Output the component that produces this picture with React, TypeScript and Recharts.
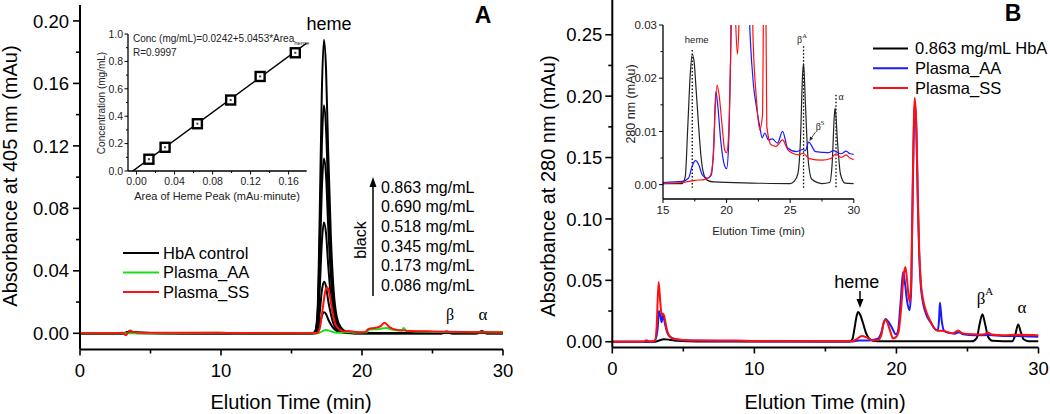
import { ComposedChart, Line, Scatter, XAxis, YAxis, ReferenceLine } from "recharts";

// ---------- Panel A (405 nm) ----------
// shared time grid for the six HbA control runs
const TIME_A = [0, 3.0, 3.25, 3.5, 3.75, 4.2, 6, 16.5, 16.7, 16.85, 17.0, 17.15, 17.3, 17.45, 17.6, 17.8, 18.0, 18.2, 18.5, 18.9, 19.5, 25.6, 26.0, 26.4, 28.1, 28.5, 28.9, 30];
const HBA_0863 = [0, 0, 0.0003, 0.0012, 0.0008, 0.0004, 0.0002, 0, 0.0019, 0.015, 0.075, 0.154, 0.188, 0.169, 0.117, 0.06, 0.026, 0.011, 0.0038, 0.0009, 0.0002, 0.0002, 0.0012, 0.0002, 0.0002, 0.0013, 0.0002, 0.0002];
const HBA_0690 = [0, 0, 0.0003, 0.0011, 0.0007, 0.0004, 0.0002, 0, 0.0015, 0.0117, 0.058, 0.12, 0.146, 0.131, 0.091, 0.047, 0.02, 0.0088, 0.0029, 0.0007, 0.0002, 0.0002, 0.001, 0.0002, 0.0002, 0.0011, 0.0002, 0.0002];
const HBA_0518 = [0, 0, 0.0002, 0.001, 0.0006, 0.0003, 0.0001, 0, 0.0011, 0.009, 0.045, 0.092, 0.112, 0.101, 0.069, 0.036, 0.016, 0.0067, 0.0022, 0.0006, 0.0001, 0.0001, 0.0008, 0.0001, 0.0001, 0.0009, 0.0001, 0.0001];
const HBA_0345 = [0, 0, 0.0002, 0.0008, 0.0005, 0.0002, 0.0001, 0, 0.0007, 0.0057, 0.028, 0.058, 0.071, 0.064, 0.044, 0.023, 0.0099, 0.0043, 0.0014, 0.0004, 0.0001, 0.0001, 0.0006, 0.0001, 0.0001, 0.0007, 0.0001, 0.0001];
const HBA_0173 = [0, 0, 0.0001, 0.0006, 0.0004, 0.0002, 0.0001, 0, 0.0003, 0.0026, 0.013, 0.027, 0.033, 0.03, 0.021, 0.012, 0.0055, 0.0026, 0.001, 0.0003, 0.0001, 0.0001, 0.0004, 0.0001, 0.0001, 0.0004, 0.0001, 0.0001];
const HBA_0086 = [0, 0, 0.0001, 0.0004, 0.0003, 0.0001, 0, 0, 0.0001, 0.0011, 0.0054, 0.011, 0.0135, 0.0124, 0.009, 0.0055, 0.003, 0.0016, 0.0007, 0.0002, 0, 0, 0.0003, 0, 0, 0.0003, 0, 0];
const HBA_RUNS = [HBA_0863, HBA_0690, HBA_0518, HBA_0345, HBA_0173, HBA_0086];
const CONC_LABELS = ["0.863 mg/mL", "0.690 mg/mL", "0.518 mg/mL", "0.345 mg/mL", "0.173 mg/mL", "0.086 mg/mL"];

const PLASMA_SS_A: [number, number][] = [
  [0, 0], [2.5, 0], [3.0, 0.0003], [3.25, -0.0012], [3.4, 0.0005], [3.55, 0.0018], [3.8, 0.0008], [4.5, 0.0003],
  [9.5, 0.0004], [10.5, 0.0002], [16.8, 0.0001], [17.0, 0.003], [17.2, 0.015], [17.4, 0.027], [17.55, 0.0295],
  [17.7, 0.025], [17.9, 0.014], [18.1, 0.006], [18.4, 0.0025], [18.7, 0.0012], [19.05, 0.0014], [19.5, 0.0008],
  [20.2, 0.0006], [20.45, 0.0028], [21.0, 0.0036], [21.35, 0.0048], [21.6, 0.0068], [21.95, 0.004], [22.5, 0.0022],
  [23.5, 0.0015], [25, 0.0012], [27, 0.0009], [30, 0.0006],
];
const PLASMA_AA_A: [number, number][] = [
  [0, 0], [3.0, 0], [6, 0.0001], [9.7, 0.0003], [11, 0.0001], [16.9, 0.0001], [17.2, 0.0014], [17.45, 0.0021],
  [17.75, 0.0014], [18.2, 0.0003], [18.7, 0.0004], [19.0, 0.0009], [19.4, 0.0004], [20.3, 0.0006], [20.55, 0.0025],
  [21.2, 0.0028], [21.7, 0.0034], [22.2, 0.0022], [22.8, 0.0016], [22.95, 0.0034], [23.15, 0.0014], [25, 0.0009], [30, 0.0005],
];

// calibration inset
const HEME_AREA = [0.013, 0.03, 0.064, 0.099, 0.13, 0.167];
const HEME_CONC = [0.086, 0.173, 0.345, 0.518, 0.69, 0.863];
const FIT_AREA = [-0.004, 0.179];
const FIT_CONC = [0, 0.934];

// ---------- Panel B (280 nm) ----------
const HBA_B: [number, number][] = [
  [0, 0], [3.0, 0], [3.3, 0.001], [3.6, 0.002], [4.0, 0.0017], [4.6, 0.0007], [6, 0.0002], [16.7, 0.0001],
  [16.9, 0.002], [17.05, 0.011], [17.2, 0.021], [17.3, 0.0243], [17.45, 0.022], [17.65, 0.015], [17.85, 0.0075],
  [18.05, 0.003], [18.35, 0.0008], [19, 0.0003], [25.3, 0.0003], [25.65, 0.003], [25.85, 0.014], [26.05, 0.0224],
  [26.25, 0.014], [26.45, 0.004], [26.75, 0.0007], [27.5, 0.0003], [28.15, 0.0004], [28.35, 0.005], [28.57, 0.0141],
  [28.75, 0.008], [28.95, 0.002], [29.3, 0.0004], [30, 0.0003],
];
const PLASMA_AA_B: [number, number][] = [
  [0, 0], [2.9, 0], [3.1, 0.004], [3.2, 0.012], [3.28, 0.025], [3.4, 0.02], [3.47, 0.016], [3.57, 0.022], [3.7, 0.015],
  [3.85, 0.008], [4.05, 0.004], [4.5, 0.0018], [5.5, 0.001], [8.5, 0.0006], [12, 0.0003], [16.8, 0.0002], [17.4, 0.001],
  [18.0, 0.001], [18.7, 0.0025], [18.95, 0.008], [19.1, 0.015], [19.24, 0.0186], [19.45, 0.016], [19.7, 0.011],
  [19.95, 0.006], [20.1, 0.008], [20.3, 0.033], [20.47, 0.0567], [20.6, 0.048], [20.75, 0.033], [20.92, 0.0257],
  [21.03, 0.04], [21.13, 0.11], [21.3, 0.195], [21.42, 0.165], [21.5, 0.115], [21.6, 0.072], [21.7, 0.048],
  [21.9, 0.03], [22.1, 0.022], [22.45, 0.015], [22.7, 0.0105], [22.9, 0.009], [23.0, 0.018], [23.06, 0.032],
  [23.18, 0.018], [23.35, 0.009], [23.7, 0.0072], [24.1, 0.0066], [24.4, 0.0078], [24.7, 0.006], [25.5, 0.0052],
  [26.5, 0.0054], [27.5, 0.0047], [28.5, 0.0046], [29.5, 0.0042], [30, 0.0041],
];
const PLASMA_SS_B: [number, number][] = [
  [0, 0], [2.2, 0], [2.4, 0.0012], [2.6, 0.0002], [3.0, 0.0008], [3.12, 0.012], [3.26, 0.0486], [3.38, 0.032],
  [3.47, 0.022], [3.53, 0.023], [3.65, 0.021], [3.8, 0.012], [4.0, 0.005], [4.4, 0.0022], [5.5, 0.001], [8.7, 0.0009],
  [10, 0.0005], [16.8, 0.0003], [17.2, 0.002], [17.55, 0.0046], [17.9, 0.0035], [18.3, 0.0012], [18.7, 0.0014],
  [18.95, 0.006], [19.05, 0.013], [19.18, 0.018], [19.35, 0.016], [19.55, 0.009], [19.76, 0.0027], [19.95, 0.0035],
  [20.15, 0.008], [20.35, 0.03], [20.5, 0.053], [20.63, 0.0608], [20.75, 0.05], [20.85, 0.038], [20.94, 0.0324],
  [21.05, 0.052], [21.15, 0.13], [21.29, 0.1985], [21.4, 0.176], [21.5, 0.122], [21.6, 0.076], [21.71, 0.05],
  [21.9, 0.033], [22.15, 0.023], [22.4, 0.0165], [22.6, 0.012], [22.9, 0.0092], [23.3, 0.0088], [23.7, 0.0075],
  [24.0, 0.007], [24.34, 0.0092], [24.6, 0.0072], [25, 0.0062], [25.8, 0.0058], [26.2, 0.006], [26.45, 0.0076],
  [26.7, 0.0058], [27.5, 0.0052], [28.5, 0.0056], [29.5, 0.0055], [30, 0.0052],
];

// 15-30 min zoom inset
const HBA_B_ZOOM: [number, number][] = [
  [15, 0.0002], [16.5, 0.0002], [16.75, 0.0015], [16.95, 0.011], [17.15, 0.021], [17.3, 0.0245], [17.45, 0.023],
  [17.6, 0.018], [17.8, 0.011], [18.0, 0.005], [18.2, 0.002], [18.5, 0.0008], [19, 0.0005], [22, 0.0003],
  [25, 0.0002], [25.3, 0.0006], [25.6, 0.002], [25.8, 0.008], [25.98, 0.021], [26.05, 0.0228], [26.2, 0.015],
  [26.4, 0.005], [26.7, 0.001], [27.5, 0.0002], [28.1, 0.0004], [28.3, 0.004], [28.47, 0.013], [28.53, 0.0144],
  [28.72, 0.008], [28.95, 0.002], [29.3, 0.0003], [30, 0.0002],
];
const PLASMA_AA_ZOOM: [number, number][] = [
  [15, 0.0004], [16.5, 0.0006], [17.0, 0.0012], [17.3, 0.0035], [17.55, 0.0045], [17.8, 0.0038], [18.1, 0.0018],
  [18.5, 0.0012], [18.8, 0.0018], [19.0, 0.008], [19.15, 0.0175], [19.3, 0.015], [19.55, 0.008], [19.85, 0.0035],
  [20.0, 0.003], [20.15, 0.007], [20.3, 0.022], [20.45, 0.04], [21.6, 0.045], [21.85, 0.028], [22.1, 0.019],
  [22.35, 0.0145], [22.6, 0.011], [22.8, 0.0088], [23.0, 0.0097], [23.3, 0.0084], [23.6, 0.0086], [24.0, 0.0078],
  [24.4, 0.01], [24.8, 0.0069], [25.5, 0.0062], [26.0, 0.0066], [26.2, 0.0064], [26.45, 0.008], [27.0, 0.0062],
  [28.0, 0.006], [28.4, 0.0064], [29.0, 0.0058], [29.4, 0.0063], [29.7, 0.0058], [30, 0.0057],
];
const PLASMA_SS_ZOOM: [number, number][] = [
  [15, 0.0002], [16.5, 0.0004], [17.5, 0.0008], [18.3, 0.001], [18.7, 0.0016], [18.95, 0.005], [19.1, 0.014],
  [19.25, 0.0187], [19.4, 0.017], [19.65, 0.011], [19.85, 0.0065], [20.0, 0.006], [20.15, 0.009], [20.3, 0.022],
  [20.45, 0.045], [20.55, 0.045], [20.72, 0.03], [20.85, 0.0245], [20.97, 0.03], [21.1, 0.045], [21.9, 0.045],
  [22.1, 0.026], [22.35, 0.016], [22.6, 0.0103], [22.82, 0.013], [22.95, 0.045], [23.05, 0.045], [23.16, 0.011],
  [23.5, 0.0075], [23.9, 0.0072], [24.4, 0.0084], [24.8, 0.0066], [25.2, 0.0059], [25.7, 0.0056], [26.0, 0.0059],
  [26.5, 0.0049], [27.5, 0.0046], [28.2, 0.0049], [28.6, 0.0058], [29.0, 0.0051], [29.4, 0.0056], [29.7, 0.005], [30, 0.0047],
];

const BLACK = "#000000";
const RED = "#ff1010";
const GREEN = "#18e018";
const BLUE = "#1a1aff";
const FONT = "'Liberation Sans', Arial, sans-serif";
const SERIF = "'Liberation Serif', 'Times New Roman', serif";

const pts = (arr: [number, number][]) => arr.map(([t, v]) => ({ t, v }));
const runPts = (vals: number[]) => TIME_A.map((t, i) => ({ t, v: vals[i] }));

type TickOpts = {
  axis: "x" | "y";
  major: number;
  digits: number;
  size: number;
  len: number;
  minor: number;
  gap: number;
  sw: number;
  color?: string;
};

// draws its own outward tick mark, labels only the major ones
function makeTick(o: TickOpts) {
  return (p: any) => {
    const v = Number(p.payload.value);
    const isMajor = Math.abs(v / o.major - Math.round(v / o.major)) < 1e-6;
    const l = isMajor ? o.len : o.minor;
    const fill = o.color || "#000";
    if (o.axis === "x") {
      return (
        <g>
          <line x1={p.x} x2={p.x} y1={p.y} y2={p.y + l} stroke="#000" strokeWidth={o.sw} />
          {isMajor && (
            <text x={p.x} y={p.y + o.gap} dy="0.36em" textAnchor="middle" fontSize={o.size} fill={fill} fontFamily={FONT}>
              {v.toFixed(o.digits)}
            </text>
          )}
        </g>
      );
    }
    return (
      <g>
        <line x1={p.x} x2={p.x - l} y1={p.y} y2={p.y} stroke="#000" strokeWidth={o.sw} />
        {isMajor && (
          <text x={p.x - o.gap} y={p.y} dy="0.36em" textAnchor="end" fontSize={o.size} fill={fill} fontFamily={FONT}>
            {v.toFixed(o.digits)}
          </text>
        )}
      </g>
    );
  };
}

const mainAxisLine = { stroke: "#000", strokeWidth: 2 };
const insetAxisLine = { stroke: "#000", strokeWidth: 1.3 };

function SquareDot(p: any) {
  return (
    <g>
      <rect x={p.cx - 4.5} y={p.cy - 4.5} width={9} height={9} fill="#fff" stroke="#000" strokeWidth={2.4} />
      <rect x={p.cx - 1} y={p.cy - 1} width={2} height={2} fill="#444" />
    </g>
  );
}

function PanelA() {
  return (
    <ComposedChart width={520} height={414} margin={{ top: 5, right: 17, bottom: 0, left: 0 }}>
      <XAxis
        type="number"
        dataKey="t"
        domain={[0, 30]}
        ticks={[0, 5, 10, 15, 20, 25, 30]}
        interval={0}
        height={64.5}
        tickSize={0}
        tickMargin={0}
        tickLine={false}
        axisLine={mainAxisLine}
        tick={makeTick({ axis: "x", major: 10, digits: 0, size: 18.5, len: 6, minor: 4, gap: 21, sw: 1.6 })}
        allowDataOverflow
      />
      <YAxis
        type="number"
        domain={[-0.01037, 0.2102]}
        ticks={[0, 0.02, 0.04, 0.06, 0.08, 0.1, 0.12, 0.14, 0.16, 0.18, 0.2]}
        interval={0}
        width={80}
        tickSize={0}
        tickMargin={0}
        tickLine={false}
        axisLine={mainAxisLine}
        tick={makeTick({ axis: "y", major: 0.04, digits: 2, size: 18.5, len: 7, minor: 4, gap: 11, sw: 1.6 })}
        allowDataOverflow
      />
      {HBA_RUNS.map((run, i) => (
        <Line key={i} data={runPts(run)} dataKey="v" type="monotone" stroke={BLACK} strokeWidth={2} dot={false} isAnimationActive={false} />
      ))}
      <Line data={pts(PLASMA_AA_A)} dataKey="v" type="monotone" stroke={GREEN} strokeWidth={2} dot={false} isAnimationActive={false} />
      <Line data={pts(PLASMA_SS_A)} dataKey="v" type="monotone" stroke={RED} strokeWidth={2} dot={false} isAnimationActive={false} />
    </ComposedChart>
  );
}

function CalibrationInset() {
  const points = HEME_AREA.map((a, i) => ({ x: a, y: HEME_CONC[i] }));
  const fit = FIT_AREA.map((a, i) => ({ x: a, y: FIT_CONC[i] }));
  return (
    <ComposedChart width={228} height={178} margin={{ top: 5, right: 9.3, bottom: 0, left: 0 }}>
      <XAxis
        type="number"
        dataKey="x"
        domain={[-0.009, 0.179]}
        ticks={[0, 0.02, 0.04, 0.06, 0.08, 0.1, 0.12, 0.14, 0.16]}
        interval={0}
        height={36}
        tickSize={0}
        tickMargin={0}
        tickLine={false}
        axisLine={insetAxisLine}
        tick={makeTick({ axis: "x", major: 0.04, digits: 2, size: 10.5, len: 3.5, minor: 2, gap: 10, sw: 1, color: "#222" })}
        allowDataOverflow
      />
      <YAxis
        type="number"
        dataKey="y"
        domain={[0, 1]}
        ticks={[0, 0.1, 0.2, 0.3, 0.4, 0.5, 0.6, 0.7, 0.8, 0.9, 1.0]}
        interval={0}
        width={40}
        tickSize={0}
        tickMargin={0}
        tickLine={false}
        axisLine={insetAxisLine}
        tick={makeTick({ axis: "y", major: 0.2, digits: 1, size: 10.5, len: 3.5, minor: 2, gap: 5, sw: 1, color: "#222" })}
        allowDataOverflow
      />
      <Line data={fit} dataKey="y" type="linear" stroke="#000" strokeWidth={1.5} dot={false} isAnimationActive={false} />
      <Scatter data={points} dataKey="y" shape={SquareDot} isAnimationActive={false} />
    </ComposedChart>
  );
}

function PanelB() {
  return (
    <ComposedChart width={530} height={414} margin={{ top: 0, right: 11.5, bottom: 0, left: 0 }}>
      <XAxis
        type="number"
        dataKey="t"
        domain={[0, 30]}
        ticks={[0, 5, 10, 15, 20, 25, 30]}
        interval={0}
        height={66.5}
        tickSize={0}
        tickMargin={0}
        tickLine={false}
        axisLine={mainAxisLine}
        tick={makeTick({ axis: "x", major: 10, digits: 0, size: 18.5, len: 6, minor: 4, gap: 21, sw: 1.6 })}
        allowDataOverflow
      />
      <YAxis
        type="number"
        domain={[-0.0047, 0.2783]}
        ticks={[0, 0.025, 0.05, 0.075, 0.1, 0.125, 0.15, 0.175, 0.2, 0.225, 0.25]}
        interval={0}
        width={92.3}
        tickSize={0}
        tickMargin={0}
        tickLine={false}
        axisLine={mainAxisLine}
        tick={makeTick({ axis: "y", major: 0.05, digits: 2, size: 18.5, len: 7, minor: 4, gap: 10, sw: 1.6 })}
        allowDataOverflow
      />
      <Line data={pts(HBA_B)} dataKey="v" type="monotone" stroke={BLACK} strokeWidth={2} dot={false} isAnimationActive={false} />
      <Line data={pts(PLASMA_AA_B)} dataKey="v" type="monotone" stroke={BLUE} strokeWidth={2} dot={false} isAnimationActive={false} />
      <Line data={pts(PLASMA_SS_B)} dataKey="v" type="monotone" stroke={RED} strokeWidth={2} dot={false} isAnimationActive={false} />
    </ComposedChart>
  );
}

function ZoomInset() {
  const dotted = { stroke: "#000", strokeWidth: 1.3, strokeDasharray: "1.5 2" };
  return (
    <ComposedChart width={250} height={215} margin={{ top: 5, right: 9.2, bottom: 0, left: 0 }}>
      <XAxis
        type="number"
        dataKey="t"
        domain={[15, 30]}
        ticks={[15, 17.5, 20, 22.5, 25, 27.5, 30]}
        interval={0}
        height={36}
        tickSize={0}
        tickMargin={0}
        tickLine={false}
        axisLine={insetAxisLine}
        tick={makeTick({ axis: "x", major: 5, digits: 0, size: 11.5, len: 4, minor: 2.5, gap: 11, sw: 1, color: "#222" })}
        allowDataOverflow
      />
      <YAxis
        type="number"
        domain={[-0.0027, 0.03]}
        ticks={[0, 0.005, 0.01, 0.015, 0.02, 0.025, 0.03]}
        interval={0}
        width={50}
        tickSize={0}
        tickMargin={0}
        tickLine={false}
        axisLine={insetAxisLine}
        tick={makeTick({ axis: "y", major: 0.01, digits: 2, size: 11.5, len: 4, minor: 2.5, gap: 6, sw: 1, color: "#222" })}
        allowDataOverflow
      />
      <ReferenceLine segment={[{ x: 17.3, y: 0.0253 }, { x: 17.3, y: -0.0006 }]} {...dotted} ifOverflow="visible" />
      <ReferenceLine segment={[{ x: 26.05, y: 0.026 }, { x: 26.05, y: -0.0006 }]} {...dotted} ifOverflow="visible" />
      <ReferenceLine segment={[{ x: 28.6, y: 0.0169 }, { x: 28.6, y: -0.0006 }]} {...dotted} ifOverflow="visible" />
      <Line data={pts(HBA_B_ZOOM)} dataKey="v" type="monotone" stroke="#222" strokeWidth={1.2} dot={false} isAnimationActive={false} />
      <Line data={pts(PLASMA_AA_ZOOM)} dataKey="v" type="monotone" stroke={BLUE} strokeWidth={1.2} dot={false} isAnimationActive={false} />
      <Line data={pts(PLASMA_SS_ZOOM)} dataKey="v" type="monotone" stroke={RED} strokeWidth={1.2} dot={false} isAnimationActive={false} />
    </ComposedChart>
  );
}

function Annotations() {
  const legendA = [
    { label: "HbA control", color: BLACK, y: 253 },
    { label: "Plasma_AA", color: GREEN, y: 272.5 },
    { label: "Plasma_SS", color: RED, y: 292 },
  ];
  const legendB = [
    { label: "0.863 mg/mL HbA", color: BLACK, y: 48.5 },
    { label: "Plasma_AA", color: BLUE, y: 68.3 },
    { label: "Plasma_SS", color: RED, y: 88 },
  ];
  return (
    <svg width={1050} height={414} style={{ position: "absolute", left: 0, top: 0, pointerEvents: "none" }} fontFamily={FONT}>
      {/* axis titles */}
      <text x={291} y={409} textAnchor="middle" fontSize={20}>Elution Time (min)</text>
      <text x={825} y={409} textAnchor="middle" fontSize={20}>Elution Time (min)</text>
      <text transform="translate(10,176) rotate(-90)" textAnchor="middle" dy="0.36em" fontSize={20}>Absorbance at 405 nm (mAu)</text>
      <text transform="translate(548,186) rotate(-90)" textAnchor="middle" dy="0.36em" fontSize={20}>Absorbance at 280 nm (mAu)</text>

      {/* panel letters */}
      <text x={483} y={23} textAnchor="middle" fontSize={23} fontWeight="bold">A</text>
      <text x={1013} y={21} textAnchor="middle" fontSize={23} fontWeight="bold">B</text>

      {/* panel A labels */}
      <text x={329} y={30} textAnchor="middle" fontSize={18}>heme</text>
      <text x={450} y={320} textAnchor="middle" fontSize={16} fontFamily={SERIF}>β</text>
      <text x={483} y={320} textAnchor="middle" fontSize={17} fontFamily={SERIF}>α</text>
      {legendA.map((d) => (
        <g key={d.label}>
          <line x1={123} x2={159} y1={d.y} y2={d.y} stroke={d.color} strokeWidth={2} />
          <text x={163} y={d.y} dy="0.36em" fontSize={16.5}>{d.label}</text>
        </g>
      ))}
      <line x1={373} x2={373} y1={296} y2={184} stroke="#000" strokeWidth={1.5} />
      <polygon points="373,177 369.5,187 376.5,187" fill="#000" />
      <text transform="translate(360,240) rotate(-90)" textAnchor="middle" dy="0.36em" fontSize={16}>black</text>
      {CONC_LABELS.map((c, i) => (
        <text key={c} x={381} y={192.7 + i * 19.6} fontSize={16}>{c}</text>
      ))}

      {/* calibration inset labels */}
      <text x={133} y={41.5} fontSize={10} fill="#222">
        Conc (mg/mL)=0.0242+5.0453*Area<tspan fontSize={6} dy={3}>heme</tspan>
      </text>
      <text x={133} y={56} fontSize={10} fill="#222">R=0.9997</text>
      <text transform="translate(101,103) rotate(-90)" textAnchor="middle" dy="0.36em" fontSize={10} fill="#222">Concentration (mg/mL)</text>
      <text x={217} y={196} textAnchor="middle" dy="0.36em" fontSize={11} fill="#222">Area of Heme Peak (mAu·minute)</text>

      {/* panel B labels */}
      <text x={856.7} y={288} textAnchor="middle" fontSize={18}>heme</text>
      <line x1={860} x2={860} y1={291} y2={302} stroke="#000" strokeWidth={1.5} />
      <polygon points="860,308 856.5,299 863.5,299" fill="#000" />
      <text x={985} y={304} textAnchor="middle" fontSize={17} fontFamily={SERIF}>
        β<tspan fontSize={11} dy={-9}>A</tspan>
      </text>
      <text x={1022} y={312.7} textAnchor="middle" fontSize={17} fontFamily={SERIF}>α</text>
      {legendB.map((d) => (
        <g key={d.label}>
          <line x1={873} x2={908} y1={d.y} y2={d.y} stroke={d.color} strokeWidth={2} />
          <text x={915} y={d.y} dy="0.36em" fontSize={16.5}>{d.label}</text>
        </g>
      ))}

      {/* zoom inset labels */}
      <text x={696.7} y={43} textAnchor="middle" fontSize={9.5} fill="#222">heme</text>
      <text x={802} y={43} textAnchor="middle" fontSize={10} fill="#222" fontFamily={SERIF}>
        β<tspan fontSize={6.5} dy={-5}>A</tspan>
      </text>
      <text x={841} y={100} textAnchor="middle" fontSize={10} fill="#222" fontFamily={SERIF}>α</text>
      <text x={820} y={130} textAnchor="middle" fontSize={10} fill="#222" fontFamily={SERIF}>
        β<tspan fontSize={6.5} dy={-5}>S</tspan>
      </text>
      <line x1={815.5} y1={132} x2={810.5} y2={139.5} stroke="#222" strokeWidth={0.8} />
      <polygon points="809.5,141 810,136.5 813,138.5" fill="#222" />
      <text x={758.5} y={231} textAnchor="middle" dy="0.36em" fontSize={11.5} fill="#222">Elution Time (min)</text>
      <text transform="translate(630.6,104) rotate(-90)" textAnchor="middle" dy="0.36em" fontSize={12.5} fill="#222">280 nm (mAu)</text>
    </svg>
  );
}

export default function App() {
  return (
    <div style={{ position: "absolute", left: 0, top: 0, width: 1050, height: 414, background: "#fff", fontFamily: FONT }}>
      <div style={{ position: "absolute", left: 0, top: 0 }}>
        <PanelA />
      </div>
      <div style={{ position: "absolute", left: 88, top: 29 }}>
        <CalibrationInset />
      </div>
      <div style={{ position: "absolute", left: 520, top: 0 }}>
        <PanelB />
      </div>
      <div style={{ position: "absolute", left: 613, top: 20 }}>
        <ZoomInset />
      </div>
      <Annotations />
    </div>
  );
}
